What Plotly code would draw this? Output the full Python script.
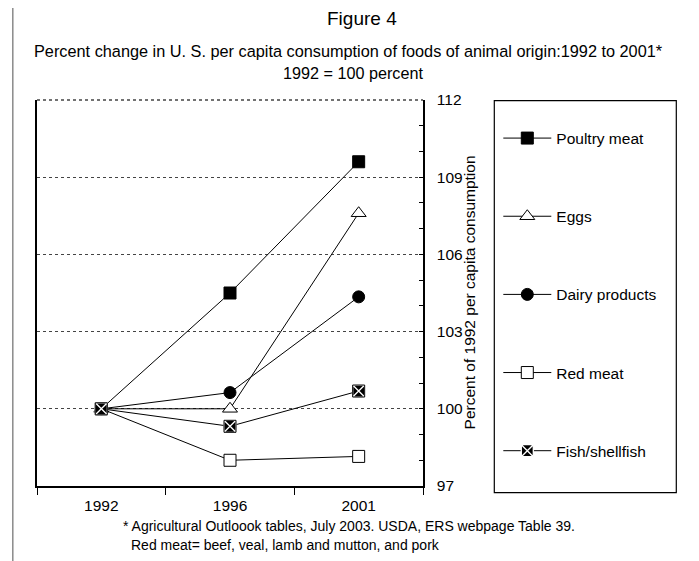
import plotly.graph_objects as go

# ---- data ----
years = ["1992", "1996", "2001"]
poultry = [100, 104.5, 109.6]
eggs = [100, 100.0, 107.6]
dairy = [100, 100.63, 104.35]
red_meat = [100, 98.0, 98.15]
fish = [100, 99.32, 100.69]
y_ticks = [97, 100, 103, 106, 109, 112]

FONT = "Liberation Sans, Arial, Helvetica, sans-serif"
SCREEN_W, SCREEN_H = 699, 561
OFF = 8  # browser body margin
W, H = SCREEN_W - OFF, SCREEN_H - OFF
# plot area in screen pixels
L, R, T, B = 36.7, 422.7, 100.0, 485.7


def px(x):
    return (x - L) / (R - L)


def py(y):
    return (B - y) / (B - T)


fig = go.Figure()
line = dict(color="black", width=1)

fig.add_trace(go.Scatter(x=years, y=poultry, name="Poultry meat", mode="lines+markers",
                         legendgroup="a", line=line,
                         marker=dict(symbol="square", size=12, color="black",
                                     line=dict(color="black", width=1))))
fig.add_trace(go.Scatter(x=years, y=eggs, name="Eggs", mode="lines+markers",
                         legendgroup="b", line=line,
                         marker=dict(symbol="triangle-up", size=13, color="white",
                                     line=dict(color="black", width=1))))
fig.add_trace(go.Scatter(x=years, y=dairy, name="Dairy products", mode="lines+markers",
                         legendgroup="c", line=line,
                         marker=dict(symbol="circle", size=12, color="black",
                                     line=dict(color="black", width=1))))
fig.add_trace(go.Scatter(x=years, y=red_meat, name="Red meat", mode="lines+markers",
                         legendgroup="d", line=line,
                         marker=dict(symbol="square", size=12, color="white",
                                     line=dict(color="black", width=1))))
fig.add_trace(go.Scatter(x=years, y=fish, name="Fish/shellfish", mode="lines+markers",
                         legendgroup="e", line=line,
                         marker=dict(symbol="square-x", size=12, color="black",
                                     line=dict(color="white", width=1.3))))
fig.add_trace(go.Scatter(x=years, y=fish, mode="markers", showlegend=False,
                         legendgroup="e", hoverinfo="skip",
                         marker=dict(symbol="square-open", size=12, color="black",
                                     line=dict(color="black", width=1))))

shapes = [
    # legend frame
    dict(type="rect", xref="paper", yref="paper",
         x0=px(494), x1=px(676), y0=py(492.3), y1=py(100.7),
         line=dict(color="black", width=1.2), fillcolor="rgba(0,0,0,0)", layer="below"),
    # dotted top edge of the plot (grid line at 112)
    dict(type="line", xref="paper", yref="paper", x0=0, x1=1, y0=1, y1=1,
         line=dict(color="#444444", width=1.5, dash="dot"), layer="below"),
    # page frame lines on the left
    dict(type="line", xref="paper", yref="paper", x0=px(12.5), x1=px(12.5), y0=py(575), y1=py(0),
         line=dict(color="#8a8a8a", width=1.5)),
]

annotations = [
    dict(text="Figure 4", x=px(362), y=py(19), xref="paper", yref="paper",
         showarrow=False, font=dict(size=19, color="black"), xanchor="center", yanchor="middle"),
    dict(text="Percent change in U. S. per capita consumption of foods of animal origin:1992 to 2001*",
         x=px(348), y=py(51), xref="paper", yref="paper", showarrow=False,
         font=dict(size=16.3, color="black"), xanchor="center", yanchor="middle"),
    dict(text="1992 = 100 percent", x=px(353), y=py(73), xref="paper", yref="paper",
         showarrow=False, font=dict(size=16.2, color="black"), xanchor="center", yanchor="middle"),
    dict(text="Percent of 1992 per capita consumption", x=px(469), y=py(292),
         xref="paper", yref="paper", showarrow=False, textangle=-90,
         font=dict(size=15.5, color="black"), xanchor="center", yanchor="middle"),
    dict(text="* Agricultural Outloook tables, July 2003. USDA, ERS webpage Table 39.",
         x=px(121), y=py(526), xref="paper", yref="paper", showarrow=False,
         font=dict(size=14, color="black"), xanchor="left", yanchor="middle"),
    dict(text="Red meat= beef, veal, lamb and mutton, and pork",
         x=px(129), y=py(545), xref="paper", yref="paper", showarrow=False,
         font=dict(size=14, color="black"), xanchor="left", yanchor="middle"),
]

fig.update_layout(
    width=W, height=H,
    margin=dict(l=L - OFF, r=SCREEN_W - R, t=T - OFF, b=SCREEN_H - B, pad=0, autoexpand=False),
    paper_bgcolor="white", plot_bgcolor="white",
    font=dict(family=FONT, size=15, color="black"),
    showlegend=True,
    legend=dict(x=px(498), xanchor="left", y=py(121.5), yanchor="top",
                bgcolor="rgba(0,0,0,0)", borderwidth=0, font=dict(size=15.5),
                tracegroupgap=55, itemwidth=48, traceorder="grouped"),
    shapes=shapes,
    annotations=annotations,
    xaxis=dict(type="category", range=[-0.5, 2.5], showline=True, linecolor="black",
               linewidth=1.5, ticks="outside", tickson="boundaries", ticklen=7,
               tickcolor="black", tickwidth=1, showgrid=False, zeroline=False,
               ticklabelstandoff=5, tickfont=dict(size=15.5), fixedrange=True),
    yaxis=dict(side="right", range=[97, 112], tickvals=y_ticks, ticks="inside",
               ticklen=4, tickcolor="black", showline=True, linecolor="black",
               linewidth=1.5, mirror=True, showgrid=True, gridcolor="#444444",
               griddash="dot", gridwidth=1, zeroline=False, ticklabelstandoff=9,
               tickfont=dict(size=15.5),
               minor=dict(dtick=1, tick0=97, ticks="inside", ticklen=4,
                          tickcolor="black", showgrid=False)),
)

fig.write_html("out.html")
